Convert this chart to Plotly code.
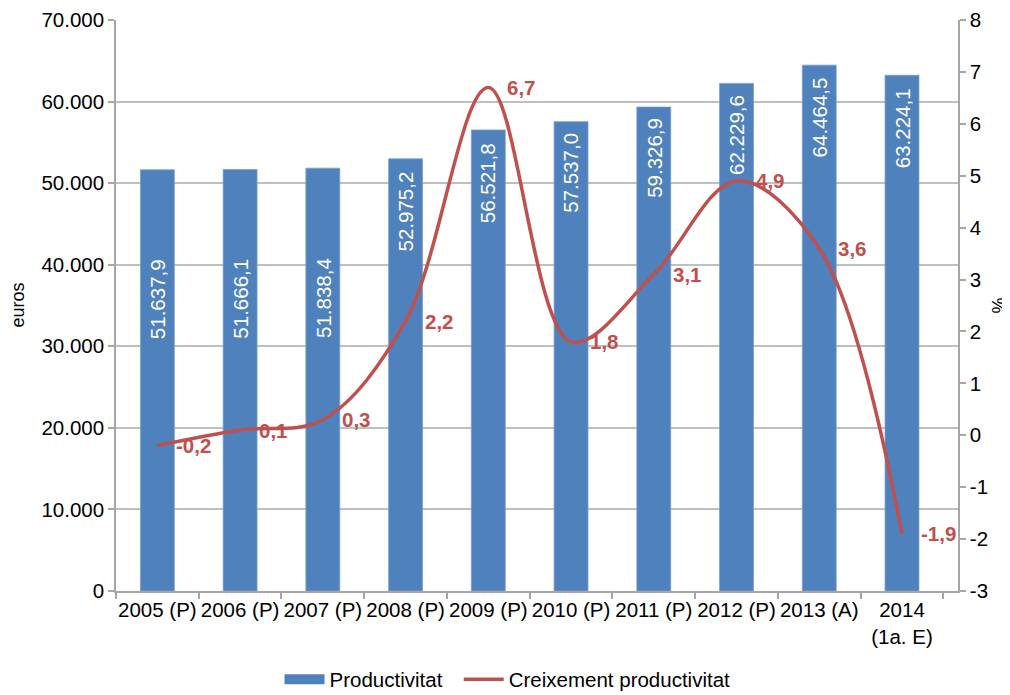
import plotly.graph_objects as go

# ---- data ----
categories = ["2005 (P)", "2006 (P)", "2007 (P)", "2008 (P)", "2009 (P)",
              "2010 (P)", "2011 (P)", "2012 (P)", "2013 (A)", "2014<br>(1a. E)"]
productivitat = [51637.9, 51666.1, 51838.4, 52975.2, 56521.8,
                 57537.0, 59326.9, 62229.6, 64464.5, 63224.1]
creixement = [-0.2, 0.1, 0.3, 2.2, 6.7, 1.8, 3.1, 4.9, 3.6, -1.9]
pct_ticks = [-3, -2, -1, 0, 1, 2, 3, 4, 5, 6, 7, 8]
pct_ticktext = ["-3", "-2", "-1", "0", "1", "2", "3", "4", "5", "6", "7", "8"]

# label placement (pixels below bar top for the value labels inside bars)
bar_label_drop = [129, 129, 130, 53, 53, 51, 51, 52, 52, 53]

BLUE = "#4F81BD"
RED = "#C0504D"
AXIS = "#A6A6A6"
GRID = "#BFBFBF"
FONT = "Liberation Sans, Arial, sans-serif"
FS = 20.5

fig = go.Figure()
fig.add_trace(go.Bar(
    x=categories, y=productivitat, name="Productivitat",
    marker=dict(color=BLUE, line=dict(color="#7A9FCF", width=0.8)),
    yaxis="y", hoverinfo="skip", showlegend=False,
))
# legend swatch for the bars (wide rectangle as in the original legend)
fig.add_trace(go.Scatter(
    x=[None], y=[None], name="Productivitat\u00a0\u00a0", mode="lines",
    line=dict(color=BLUE, width=12), yaxis="y", hoverinfo="skip",
))
fig.add_trace(go.Scatter(
    x=categories, y=creixement, name="Creixement productivitat",
    mode="lines", line=dict(color=RED, width=3.5, shape="spline", smoothing=1.0),
    yaxis="y2", hoverinfo="skip",
))

annotations = []
for c, v, d in zip(categories, productivitat, bar_label_drop):
    s = f"{v:,.1f}".replace(",", "X").replace(".", ",").replace("X", ".")
    annotations.append(dict(
        x=c, y=v, xref="x", yref="y", text=s, showarrow=False,
        textangle=-90, xanchor="center", yanchor="middle", yshift=-d,
        font=dict(family=FONT, size=FS, color="white"),
    ))
for c, v in zip(categories, creixement):
    s = f"{v:.1f}".replace(".", ",")
    annotations.append(dict(
        x=c, y=v, xref="x", yref="y2", text=s, showarrow=False,
        xanchor="left", yanchor="middle", xshift=17,
        font=dict(family=FONT, size=20.5, color=RED, weight="bold"),
    ))
# axis titles
annotations.append(dict(
    x=0, y=0.5, xref="paper", yref="paper", xshift=-99, text="euros",
    xanchor="center", yanchor="middle",
    showarrow=False, textangle=-90, font=dict(family=FONT, size=18),
))
annotations.append(dict(
    x=1, y=0.5, xref="paper", yref="paper", xshift=40, text="%",
    xanchor="center", yanchor="middle",
    showarrow=False, textangle=-90, font=dict(family=FONT, size=18),
))

fig.update_layout(
    width=1010, height=695,
    margin=dict(l=108, r=60, t=12, b=112, autoexpand=False),
    paper_bgcolor="white", plot_bgcolor="white",
    font=dict(family=FONT, size=FS, color="black"),
    separators=",.",
    bargap=0.59,
    showlegend=True,
    legend=dict(orientation="h", x=0.465, xanchor="center", y=-0.155,
                yanchor="middle", font=dict(size=FS), itemwidth=40,
                bgcolor="rgba(0,0,0,0)"),
    xaxis=dict(type="category", showline=True, linecolor=AXIS, linewidth=1.5,
               ticks="outside", tickson="boundaries", ticklen=6,
               tickcolor=AXIS, tickwidth=1.5, showgrid=False,
               tickangle=0, automargin=False,
               tickfont=dict(size=FS)),
    yaxis=dict(range=[0, 70000], dtick=10000, tickformat=",.0f",
               showgrid=True, gridcolor=GRID, gridwidth=1.5,
               showline=True, linecolor=AXIS, linewidth=1.5,
               ticks="outside", ticklen=6, tickcolor=AXIS, tickwidth=1.5,
               zeroline=False, tickfont=dict(size=FS), automargin=False),
    yaxis2=dict(range=[-3, 8], tickmode="array", tickvals=pct_ticks,
                ticktext=pct_ticktext, overlaying="y", side="right",
                showgrid=False, showline=True, linecolor=AXIS, linewidth=1.5,
                ticks="outside", ticklen=6, tickcolor=AXIS, tickwidth=1.5,
                zeroline=False, tickfont=dict(size=FS), automargin=False),
    annotations=annotations,
)

fig.write_html("out.html")
